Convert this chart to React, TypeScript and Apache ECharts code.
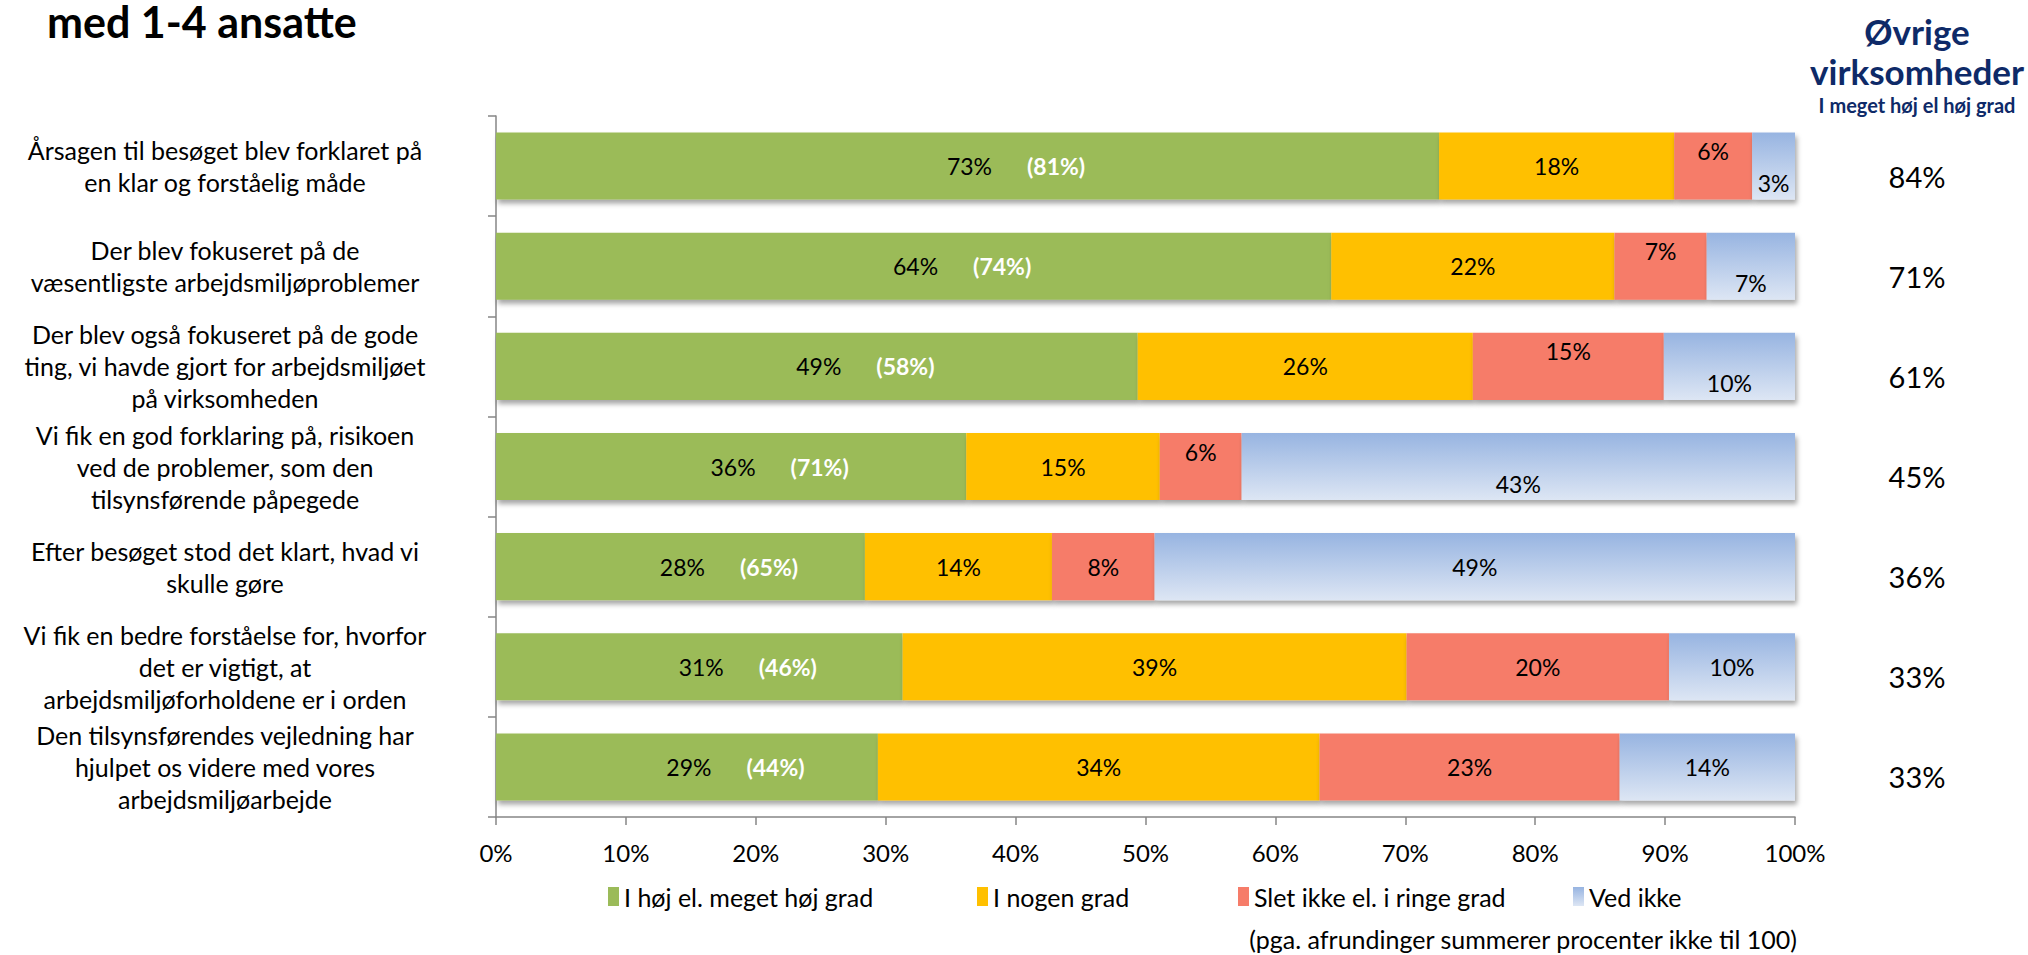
import React, { useEffect, useRef } from "react";
import * as echarts from "echarts";

const CATEGORIES = [
  "Årsagen til besøget blev forklaret på\nen klar og forståelig måde",
  "Der blev fokuseret på de\nvæsentligste arbejdsmiljøproblemer",
  "Der blev også fokuseret på de gode\nting, vi havde gjort for arbejdsmiljøet\npå virksomheden",
  "Vi fik en god forklaring på, risikoen\nved de problemer, som den\ntilsynsførende påpegede",
  "Efter besøget stod det klart, hvad vi\nskulle gøre",
  "Vi fik en bedre forståelse for, hvorfor\ndet er vigtigt, at\narbejdsmiljøforholdene er i orden",
  "Den tilsynsførendes vejledning har\nhjulpet os videre med vores\narbejdsmiljøarbejde",
];

const SERIES_NAMES = [
  "I høj el. meget høj grad",
  "I nogen grad",
  "Slet ikke el. i ringe grad",
  "Ved ikke",
];

const HIGH = [72.6, 64.3, 49.4, 36.2, 28.4, 31.3, 29.4];
const SOME = [18.1, 21.8, 25.8, 14.9, 14.4, 38.8, 34.0];
const LOW = [6.0, 7.1, 14.7, 6.3, 7.9, 20.2, 23.1];
const DONT_KNOW = [3.3, 6.8, 10.1, 42.6, 49.3, 9.7, 13.5];

// values shown in parentheses inside the green bars
const PAREN = [81, 74, 58, 71, 65, 46, 44];
// "Øvrige virksomheder – I meget høj el høj grad"
const OTHER = [84, 71, 61, 45, 36, 33, 33];

const X_TICKS_MAX = 100;
const STAGGERED_ROWS = [0, 1, 2, 3];

const FONT = "Lato";
const NAVY = "#0E2A68";

export default function App() {
  const ref = useRef<HTMLDivElement>(null);

  useEffect(() => {
    if (!ref.current) return;
    const chart = echarts.init(ref.current, null, { renderer: "svg" });

    const blueGrad = new echarts.graphic.LinearGradient(0, 0, 0, 1, [
      { offset: 0, color: "#97B4E1" },
      { offset: 1, color: "#DDE6F4" },
    ]);
    const shadow = {
      shadowColor: "rgba(0,0,0,0.35)",
      shadowBlur: 5,
      shadowOffsetX: 2,
      shadowOffsetY: 4,
    };
    const baseLabel = {
      show: true,
      position: "inside",
      color: "#000",
      fontFamily: FONT,
      fontSize: 23,
      formatter: (p: any) => `${Math.round(p.value)}%`,
    };

    const makeData = (arr: number[], dy: number) =>
      arr.map((v, i) =>
        STAGGERED_ROWS.includes(i) && dy !== 0
          ? { value: v, label: { offset: [0, dy] } }
          : { value: v }
      );

    const option: any = {
      animation: false,
      textStyle: { fontFamily: FONT },
      grid: { left: 496, right: 233, top: 116, bottom: 138, containLabel: false },
      xAxis: {
        type: "value",
        min: 0,
        max: X_TICKS_MAX,
        interval: 10,
        splitLine: { show: false },
        axisLine: { show: true, lineStyle: { color: "#868686", width: 1.5 } },
        axisTick: { show: true, length: 8, lineStyle: { color: "#868686", width: 1.5 } },
        axisLabel: {
          formatter: "{value}%",
          color: "#000",
          fontFamily: FONT,
          fontSize: 24,
          margin: 23,
        },
      },
      yAxis: [
        {
          type: "category",
          inverse: true,
          data: CATEGORIES,
          axisLine: { show: true, lineStyle: { color: "#868686", width: 1.5 } },
          axisTick: { show: true, length: 8, lineStyle: { color: "#868686", width: 1.5 } },
          axisLabel: {
            align: "center",
            margin: 271,
            color: "#000",
            fontFamily: FONT,
            fontSize: 25,
            lineHeight: 32,
          },
        },
        {
          type: "category",
          inverse: true,
          position: "right",
          data: OTHER.map((v) => `${v}%`),
          axisLine: { show: false },
          axisTick: { show: false },
          axisLabel: {
            align: "center",
            verticalAlign: "top",
            margin: 122,
            color: "#000",
            fontFamily: FONT,
            fontSize: 29,
            lineHeight: 20,
          },
        },
      ],
      legend: SERIES_NAMES.map((name, i) => ({
        data: [name],
        left: [603, 972, 1233, 1568][i],
        top: 879,
        icon: "rect",
        itemWidth: 11,
        itemHeight: 19,
        itemGap: 0,
        textStyle: { color: "#000", fontFamily: FONT, fontSize: 25 },
        selectedMode: false,
      })),
      graphic: [
        {
          type: "text",
          left: 47,
          top: 0,
          style: {
            text: "med 1-4 ansatte",
            font: `bold 43px ${FONT}`,
            fill: "#000",
          },
        },
        {
          type: "text",
          x: 1917,
          y: 31,
          style: {
            text: "Øvrige",
            font: `bold 35px ${FONT}`,
            fill: NAVY,
            align: "center",
            verticalAlign: "middle",
          },
        },
        {
          type: "text",
          x: 1917,
          y: 71,
          style: {
            text: "virksomheder",
            font: `bold 35px ${FONT}`,
            fill: NAVY,
            align: "center",
            verticalAlign: "middle",
          },
        },
        {
          type: "text",
          x: 1917,
          y: 105,
          style: {
            text: "I meget høj el høj grad",
            font: `bold 20px ${FONT}`,
            fill: NAVY,
            align: "center",
            verticalAlign: "middle",
          },
        },
        {
          type: "text",
          x: 1797,
          y: 939,
          style: {
            text: "(pga. afrundinger summerer procenter ikke til 100)",
            font: `25px ${FONT}`,
            fill: "#000",
            align: "right",
            verticalAlign: "middle",
          },
        },
      ],
      series: [
        {
          name: SERIES_NAMES[0],
          type: "bar",
          stack: "total",
          barWidth: "67%",
          data: HIGH,
          itemStyle: { color: "#9BBB59", ...shadow },
          label: {
            ...baseLabel,
            formatter: (p: any) =>
              `{pad|}{v|${Math.round(p.value)}%}{p|(${PAREN[p.dataIndex]}%)}`,
            rich: {
              pad: { width: 97 },
              v: { color: "#000", fontFamily: FONT, fontSize: 23 },
              p: {
                color: "#fff",
                fontFamily: FONT,
                fontSize: 23,
                fontWeight: "bold",
                padding: [0, 0, 0, 35],
              },
            },
          },
        },
        {
          name: SERIES_NAMES[1],
          type: "bar",
          stack: "total",
          data: SOME,
          itemStyle: { color: "#FFC000", ...shadow },
          label: baseLabel,
        },
        {
          name: SERIES_NAMES[2],
          type: "bar",
          stack: "total",
          data: makeData(LOW, -15),
          itemStyle: { color: "#F67C69", ...shadow },
          label: baseLabel,
        },
        {
          name: SERIES_NAMES[3],
          type: "bar",
          stack: "total",
          data: makeData(DONT_KNOW, 17),
          itemStyle: { color: blueGrad, ...shadow },
          label: baseLabel,
        },
      ],
    };

    chart.setOption(option);
    return () => chart.dispose();
  }, []);

  return (
    <div
      ref={ref}
      style={{ position: "absolute", left: 0, top: 0, width: 2028, height: 955 }}
    />
  );
}
